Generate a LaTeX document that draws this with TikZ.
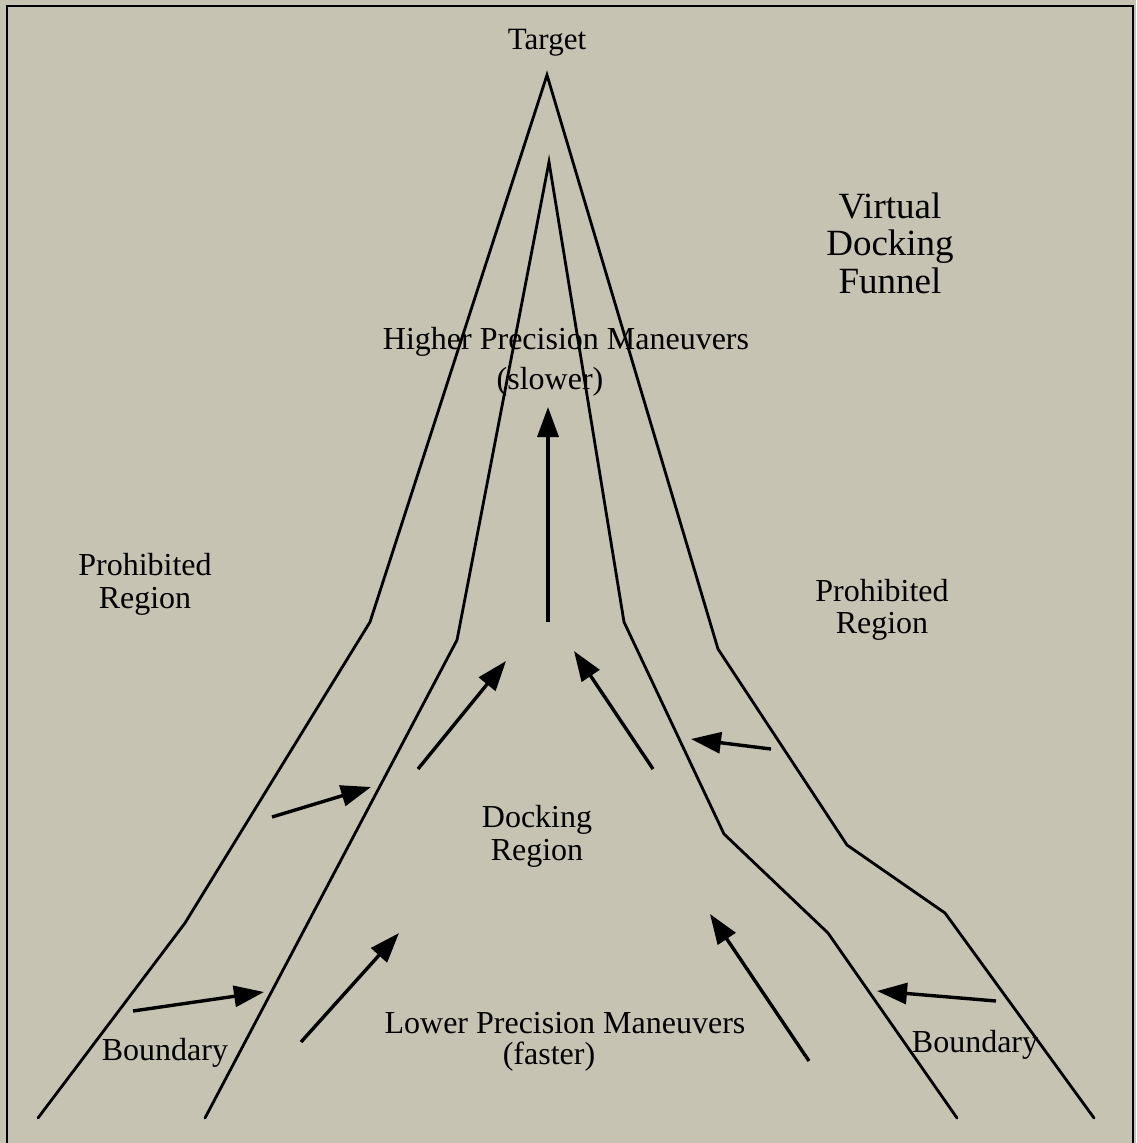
\documentclass[tikz,border=0pt]{standalone}
\usepackage{fontspec}
\setmainfont{Liberation Serif}
\usetikzlibrary{arrows.meta}
\definecolor{bgbeige}{RGB}{198,195,178}
\begin{document}
\begin{tikzpicture}[x=1pt,y=-1pt,
  funnel/.style={line width=2.8pt, line join=miter, line cap=round},
  flow/.style={line width=3.4pt, -{Triangle[length=30pt,width=21pt]}},
  lbl/.style={anchor=base, inner sep=0pt, font=\fontsize{32}{38}\selectfont},
  biglbl/.style={anchor=base, inner sep=0pt, font=\fontsize{37}{44}\selectfont}]
\fill[bgbeige] (0,0) rectangle (1136,1143);
\useasboundingbox (0,0) rectangle (1136,1143);
\draw[line width=2pt] (7,1143) -- (7,6) -- (1133,6) -- (1133,1143);

% outer funnel boundary
\coordinate (o1) at (38,1118);
\coordinate (o2) at (185,923);
\coordinate (o3) at (370,622);
\coordinate (oapex) at (547,75);
\coordinate (o4) at (718,649);
\coordinate (o5) at (847,845);
\coordinate (o6) at (945,913);
\coordinate (o7) at (1094,1118);
\draw[funnel] (o1) -- (o2) -- (o3) -- (oapex) -- (o4) -- (o5) -- (o6) -- (o7);

% inner funnel boundary
\coordinate (i1) at (205,1118);
\coordinate (i2) at (457,640);
\coordinate (iapex) at (549,162);
\coordinate (i3) at (624,622);
\coordinate (i4) at (724,834);
\coordinate (i5) at (828,933);
\coordinate (i6) at (957,1118);
\draw[funnel] (i1) -- (i2) -- (iapex) -- (i3) -- (i4) -- (i5) -- (i6);

% arrows
\coordinate (a0s) at (548,622);   \coordinate (a0e) at (548,407);
\coordinate (a1s) at (418,769);   \coordinate (a1e) at (506,661);
\coordinate (a2s) at (653,769);   \coordinate (a2e) at (574,651);
\coordinate (a3s) at (771,749);   \coordinate (a3e) at (691,739);
\coordinate (a4s) at (272,817);   \coordinate (a4e) at (371,787);
\coordinate (a5s) at (301,1042);  \coordinate (a5e) at (399,933);
\coordinate (a6s) at (133,1011);  \coordinate (a6e) at (264,992);
\coordinate (a7s) at (809,1061);  \coordinate (a7e) at (710,914);
\coordinate (a8s) at (996,1001);  \coordinate (a8e) at (877,991);
\foreach \k in {0,...,8} {\draw[flow] (a\k s) -- (a\k e);}

% labels
\node[lbl, font=\fontsize{31}{37}\selectfont] (target) at (547,49) {Target};
\node[biglbl] (virt) at (890,218) {Virtual};
\node[biglbl] (dock) at (890,255) {Docking};
\node[biglbl] (funl) at (890,293) {Funnel};
\node[lbl] (hpm) at (566,349) {Higher Precision Maneuvers};
\node[lbl] (slow) at (550,389) {(slower)};
\node[lbl] (prl1) at (145,575) {Prohibited};
\node[lbl] (prl2) at (145,608) {Region};
\node[lbl] (prr1) at (882,601) {Prohibited};
\node[lbl] (prr2) at (882,633) {Region};
\node[lbl] (dr1) at (537,827) {Docking};
\node[lbl] (dr2) at (537,860) {Region};
\node[lbl] (lpm) at (565,1033) {Lower Precision Maneuvers};
\node[lbl] (fast) at (549,1064) {(faster)};
\node[lbl] (bl) at (165,1060) {Boundary};
\node[lbl] (br) at (975,1052) {Boundary};
\end{tikzpicture}
\end{document}
